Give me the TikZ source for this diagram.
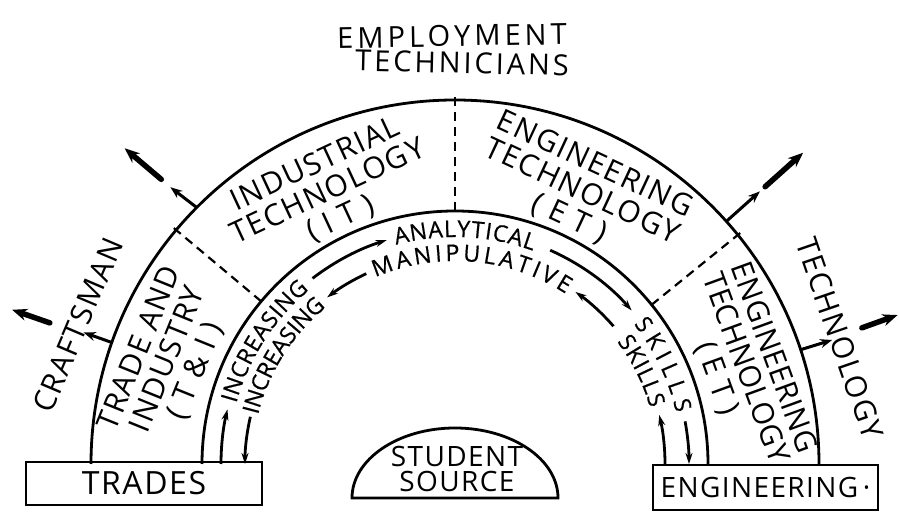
\documentclass[tikz,border=0pt]{standalone}
\usepackage{fontspec}
\setmainfont{Open Sans}[LetterSpace=5]
\usepackage{tikz}
\usetikzlibrary{arrows.meta, decorations.text}
\newcommand\trackfont{\fontsize{23}{23}\selectfont\addfontfeatures{FakeBold=0.6}}
\tikzset{
	>={Stealth[length=11pt,width=7pt]}, % small solid heads on the inner paths
	arch/.style={line width=2.8pt}, % arch lines, boxes and the source
	divider/.style={line width=2.2pt, dash pattern=on 9pt off 6pt}, % splits the arch into fields
	track/.style={line width=2.8pt, ->}, % the skill paths inside the arch
	trackword/.style={decorate, decoration={text along path, text={|\trackfont|#1}, text align={fit to path}, raise=-8pt}}, % words set on those paths
	pointer/.style={line width=3pt, -{Stealth[length=12pt,width=9pt]}}, % short arrow leaving the arch
	farpointer/.style={line width=5.5pt, line cap=round, -{Stealth[length=15pt,width=12pt]}}, % heavy arrow further out
	field/.style={align=center, inner sep=0pt, font=\fontsize{30}{30}\selectfont},
	box/.style={draw, arch, inner sep=0pt, font=\fontsize{32}{32}\selectfont},
}

\begin{document}
\begin{tikzpicture}[x=1pt, y=1pt]
	\useasboundingbox (0,0) rectangle (899,513);
	\node[field, font=\fontsize{29}{29}\selectfont\addfontfeatures{LetterSpace=14}, rotate=1] (emp) at (452,477) {EMPLOYMENT};
	\node[field, font=\fontsize{29}{29}\selectfont\addfontfeatures{LetterSpace=10}, rotate=-1.3] (techs) at (462,450) {TECHNICIANS};
	% feet of the arch and the source between them
	\node[box, minimum width=236pt, minimum height=43pt] (trades) at (144,29.5) {TRADES};
	\node[box, minimum width=225pt, minimum height=45pt, font=\fontsize{28}{28}\selectfont] (eng) at (765.5,25.5) {ENGINEERING\,·};
	\draw[arch] (352,15) arc[start angle=180, end angle=0, x radius=103pt, y radius=70pt] -- cycle;
	\node[field, font=\fontsize{28}{25}\selectfont] (src) at (457,44) {STUDENT\\SOURCE};
	\begin{scope}[shift={(455,49)}]
		\draw[arch] (180:364pt) arc[start angle=180, end angle=0, radius=364pt];
		\draw[arch] (180:253pt) arc[start angle=180, end angle=0, radius=253pt];
		\draw[divider] (140:253pt) -- (140:368pt);
		\draw[divider] (90:253pt) -- (90:368pt);
		\draw[divider] (39:253pt) -- (39:368pt);
		\node[field, rotate=68] (ti) at (160:305pt) {TRADE AND\\INDUSTRY\\( T \& I )};
		\node[field, rotate=25] (it) at (115:300pt) {INDUSTRIAL\\TECHNOLOGY\\( I T )};
		\node[field, rotate=-25] (et) at (65:300pt) {ENGINEERING\\TECHNOLOGY\\( E T )};
		\node[field, font=\fontsize{30}{30}\selectfont\addfontfeatures{LetterSpace=1}, rotate=-70] (etside) at (18.3:305pt) {ENGINEERING\\TECHNOLOGY\\( E T )};
		\node[field, rotate=67] (craft) at (159.8:402pt) {CRAFTSMAN};
		\node[field, rotate=-71] (tech) at (18.1:405pt) {TECHNOLOGY};
		% outer path, trades up and over to engineering
		\draw[track] (180:234pt) arc[start angle=180, end angle=166.5, radius=234pt];
		\path[trackword=INCREASING] (164.5:235pt) arc[start angle=164.5, end angle=130, radius=235pt];
		\draw[track] (127.5:234pt) arc[start angle=127.5, end angle=107, radius=234pt];
		\path[trackword=ANALYTICAL] (105:235pt) arc[start angle=105, end angle=70, radius=235pt];
		\draw[track] (66:234pt) arc[start angle=66, end angle=41, radius=234pt];
		\path[trackword=SKILLS] (38:235pt) arc[start angle=38, end angle=13, radius=235pt];
		\draw[track] (10.5:234pt) arc[start angle=10.5, end angle=0, radius=234pt];
		% inner path, engineering back to trades
		\draw[track] (0:210pt) arc[start angle=0, end angle=13.5, radius=210pt];
		\path[trackword=SKILLS] (37:211pt) arc[start angle=37, end angle=16, radius=211pt];
		\draw[track] (41:210pt) arc[start angle=41, end angle=55, radius=210pt];
		\path[trackword=MANIPULATIVE] (113:211pt) arc[start angle=113, end angle=57, radius=211pt];
		\draw[track] (115:210pt) arc[start angle=115, end angle=127.5, radius=210pt];
		\path[trackword=INCREASING] (166:211pt) arc[start angle=166, end angle=129.5, radius=211pt];
		\draw[track] (167:210pt) arc[start angle=167, end angle=180, radius=210pt];
		% arrows off the arch
		\draw[pointer] (160.5:364pt) -- (160.5:394pt);
		\draw[farpointer] (160.8:429pt) -- (160.8:469pt);
		\draw[pointer] (135.2:364pt) -- (135.8:397pt);
		\draw[farpointer] (135.9:409pt) -- (136.3:457pt);
		\draw[pointer] (41.8:364pt) -- (41.8:409pt);
		\draw[farpointer] (41.8:416pt) -- (41.8:467pt);
		\draw[pointer] (18.3:364pt) -- (18.2:397pt);
		\draw[farpointer] (18.5:429pt) -- (18.6:467pt);
	\end{scope}
\end{tikzpicture}
\end{document}
